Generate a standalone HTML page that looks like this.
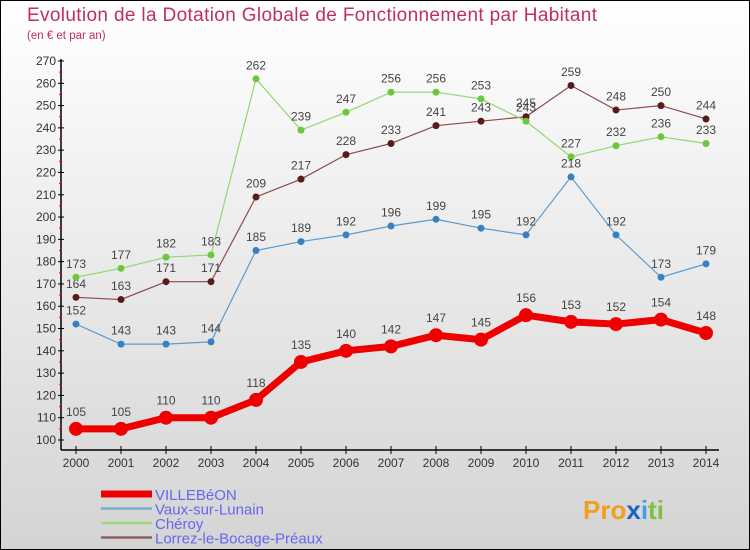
<!DOCTYPE html>
<html><head><meta charset="utf-8"><style>
body{margin:0;}
#c{width:748px;height:548px;border:1px solid #000;background:linear-gradient(#fff,#d4d4d4);position:relative;font-family:"Liberation Sans",sans-serif;overflow:hidden}
svg{position:absolute;left:0;top:0}
</style></head><body>
<div id="c">
<svg id="s" width="748" height="548"></svg>
</div>
<script>
const years=[2000,2001,2002,2003,2004,2005,2006,2007,2008,2009,2010,2011,2012,2013,2014];
const villebeon=[105,105,110,110,118,135,140,142,147,145,156,153,152,154,148];
const vaux=[152,143,143,144,185,189,192,196,199,195,192,218,192,173,179];
const cheroy=[173,177,182,183,262,239,247,256,256,253,243,227,232,236,233];
const lorrez=[164,163,171,171,209,217,228,233,241,243,245,259,248,250,244];
const yTicks=[100,110,120,130,140,150,160,170,180,190,200,210,220,230,240,250,260,270];
const NS='http://www.w3.org/2000/svg';
const s=document.getElementById('s');
function X(i){return 75+i*45;}
function Y(v){return 439-(v-100)*(379/170);}
function el(t,a,p){const e=document.createElementNS(NS,t);for(const k in a)e.setAttribute(k,a[k]);(p||s).appendChild(e);return e;}
function tx(x,y,str,a,p){const e=el('text',Object.assign({x:x,y:y},a),p);e.textContent=str;return e;}
let t=tx(26,20,'Evolution de la Dotation Globale de Fonctionnement par Habitant',{'font-size':19,fill:'#c0305a',textLength:570});


t=tx(26,38,'(en € et par an)',{'font-size':11.5,fill:'#c0305a'});


let ax=el('line',{x1:60,y1:58,x2:60,y2:449,stroke:'#000','stroke-width':1.5});


ax=el('line',{x1:60,y1:449,x2:718,y2:449,stroke:'#000','stroke-width':1.5});


yTicks.forEach(v=>{const y=Y(v);el('line',{x1:57,y1:y,x2:63,y2:y,stroke:'#000'});
 if(v<270)el('line',{x1:58,y1:Y(v+5),x2:61,y2:Y(v+5),stroke:'#e00'});
 const e=tx(55,y+4,v,{'font-size':12,fill:'#333','text-anchor':'end'});
 
 });
years.forEach((yr,i)=>{el('line',{x1:X(i),y1:445,x2:X(i),y2:453,stroke:'#000'});
 const e=tx(X(i),466,yr,{'font-size':12,fill:'#333','text-anchor':'middle'});
 
 });
function series(name,data,color,dot,w,r,fs){
 const g=el('g',{});
 
 
 el('polyline',{points:data.map((v,i)=>X(i)+','+Y(v)).join(' '),fill:'none',stroke:color,'stroke-width':w},g);
 data.forEach((v,i)=>{const c=el('circle',{cx:X(i),cy:Y(v),r:r,fill:dot},g);
  
  
  const e=tx(X(i),Y(v)-(r+6),v,{'font-size':fs,fill:'#444','text-anchor':'middle'},g);
  
  });
}
series('lorrez',lorrez,'#8b4a4a','#5a1a1a',1.2,3.5,12);
series('cheroy',cheroy,'#90d870','#6ac83a',1.2,3.5,12);
series('vaux',vaux,'#5a9bd0','#3a80c0',1.2,3.5,12);
series('villebeon',villebeon,'#e00','#e00',7,7,12);
const leg=[['VILLEBéON','#e00',7],['Vaux-sur-Lunain','#7aaed0',2.5],['Chéroy','#a0d880',2.5],['Lorrez-le-Bocage-Préaux','#8b6060',2.5]];
leg.forEach((l,i)=>{const y=493+i*14.5;const g=el('g',{});
 
 
 el('line',{x1:100,y1:y,x2:151,y2:y,stroke:l[1],'stroke-width':l[2]},g);
 tx(154,y+6,l[0],{'font-size':15,fill:'#6666ee'},g);});
const lg=el('text',{x:582,y:518,'font-size':26,'font-weight':'bold'});


[['Pro','#f0a020'],['x','#2060c0'],['i','#40a0e0'],['ti','#80c040']].forEach(p=>{const ts=el('tspan',{fill:p[1]},lg);ts.textContent=p[0];});
</script>
</body></html>
